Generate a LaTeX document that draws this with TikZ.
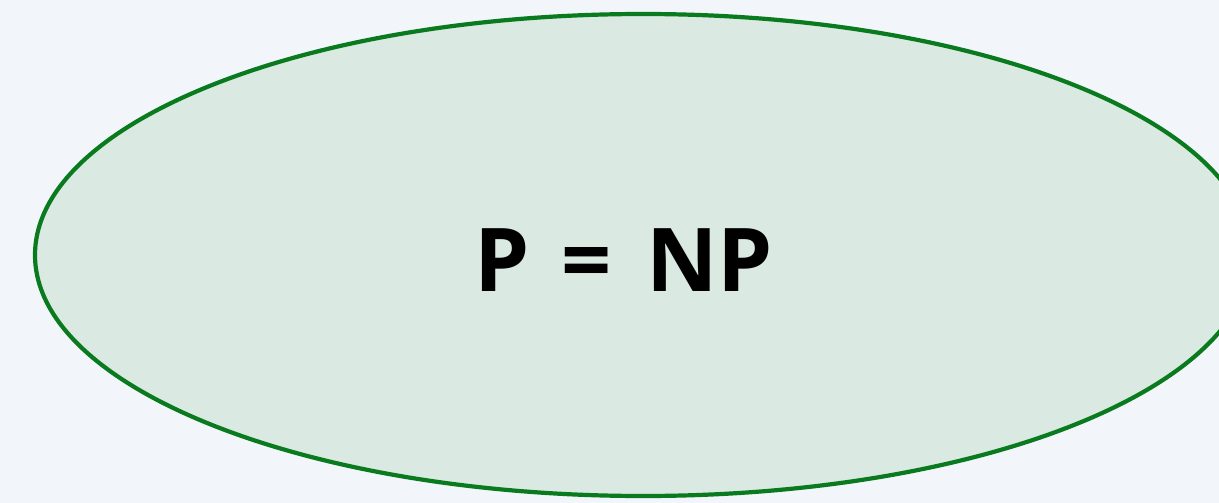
\documentclass[tikz,border=0pt]{standalone}
\usepackage{fontspec}
\setmainfont{Open Sans}
\usepackage{xcolor}
\usepackage{tikz}
\usetikzlibrary{shapes.geometric, positioning}

\definecolor{pagebg}{HTML}{F2F6FA}
\definecolor{classfill}{HTML}{DAE9E1}
\definecolor{classdraw}{HTML}{0A7A1E}

\begin{document}
\begin{tikzpicture}[
    x=1pt, y=-1pt,
    classset/.style={ellipse, draw=classdraw, fill=classfill, line width=4.2pt, inner sep=0pt},
    classlabel/.style={font=\fontsize{88}{100}\selectfont\bfseries, text=black},
]

% Canvas
\fill[pagebg] (0,0) rectangle (1219,503);
\useasboundingbox (0,0) rectangle (1219,503);

% Complexity class
\node[classset, minimum width=1216pt, minimum height=482pt] (pnp) at (643,255) {};
\node[classlabel] (pnplabel) at (624,260) {P\hspace{31pt}=\hspace{35pt}NP};

\end{tikzpicture}
\end{document}
